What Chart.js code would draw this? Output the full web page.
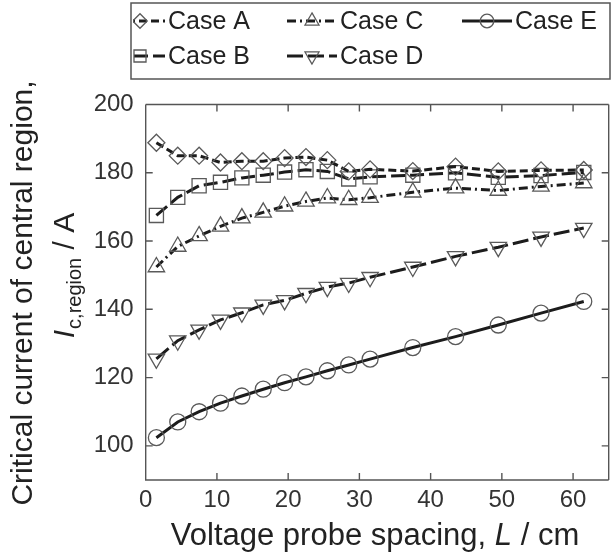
<!DOCTYPE html>
<html>
<head>
<meta charset="utf-8">
<style>
  html, body { margin: 0; padding: 0; background: #fff; overflow: hidden; }
  #wrap { width: 620px; height: 553px; }
</style>
<script src="https://cdn.jsdelivr.net/npm/chart.js@4.4.0/dist/chart.umd.min.js"></script>
</head>
<body>
<div id="wrap"><canvas id="myChart" width="620" height="553"></canvas></div>
<script>
// probe spacing L (cm)
var spacing = [1.5, 4.5, 7.5, 10.5, 13.5, 16.5, 19.5, 22.5, 25.5, 28.5, 31.5, 37.5, 43.5, 49.5, 55.5, 61.5];

// critical current of central region (A)
var caseA = [188.8, 185.0, 185.0, 183.0, 183.4, 183.4, 184.3, 184.6, 183.7, 180.4, 181.0, 180.5, 181.8, 180.4, 180.7, 180.8];
var caseB = [167.5, 172.8, 176.2, 177.2, 178.5, 179.3, 180.2, 180.9, 180.4, 178.2, 178.8, 179.3, 180.0, 178.7, 179.2, 180.1];
var caseC = [152.4, 158.4, 161.5, 164.3, 166.7, 168.4, 170.2, 171.6, 172.6, 172.1, 172.7, 174.3, 175.5, 174.8, 176.0, 177.0];
var caseD = [125.5, 130.8, 134.0, 136.9, 139.0, 141.3, 142.6, 144.7, 146.5, 147.7, 149.4, 152.4, 155.5, 158.2, 161.2, 163.8];
var caseE = [102.4, 107.0, 110.0, 112.5, 114.6, 116.6, 118.5, 120.2, 122.0, 123.7, 125.4, 128.8, 132.0, 135.4, 138.9, 142.3];

var xTicks = [0, 10, 20, 30, 40, 50, 60];
var yTicks = [100, 120, 140, 160, 180, 200];

var FONT = "'Liberation Sans', Arial, sans-serif";
var lineColor = '#1c1c1c';
var markColor = '#5a5a5a';
var axisColor = '#555';
var textColor = '#222';

function pts(vals) {
    return vals.map(function (v, i) { return { x: spacing[i], y: v }; });
}

function series(label, vals, style, radius, rotation, dash) {
    return {
        label: label,
        data: pts(vals),
        borderColor: lineColor,
        borderWidth: 3,
        borderDash: dash,
        tension: 0,
        fill: false,
        pointStyle: style,
        pointRadius: radius,
        pointRotation: rotation,
        pointBorderColor: markColor,
        pointBorderWidth: 1.3,
        pointBackgroundColor: 'rgba(255,255,255,0)'
    };
}

var datasets = [
    series('Case A', caseA, 'rectRot', 8.5, 0, [8, 4]),
    series('Case B', caseB, 'rect', 10, 0, [14, 5]),
    series('Case C', caseC, 'triangle', 9.5, 0, [9, 4, 2, 4]),
    series('Case D', caseD, 'triangle', 9.5, 180, [16, 5]),
    series('Case E', caseE, 'circle', 8, 0, [])
];
var legendSlots = [[140, 21], [140, 56], [312, 21], [312, 56], [487, 21]];

// inward ticks, frame, legend and axis titles
var framePlugin = {
    id: 'frame',
    afterDraw: function (chart) {
        var ctx = chart.ctx;
        var a = chart.chartArea;
        var xs = chart.scales.x, ys = chart.scales.y;
        ctx.save();
        ctx.strokeStyle = axisColor;
        ctx.lineWidth = 1.4;
        ctx.setLineDash([]);
        ctx.beginPath();
        ctx.moveTo(a.left, a.top); ctx.lineTo(a.right, a.top);
        ctx.moveTo(a.left, a.top); ctx.lineTo(a.left, a.bottom);
        ctx.lineTo(a.right, a.bottom);
        ctx.moveTo(a.right, a.top); ctx.lineTo(a.right, a.bottom);
        var tl = 7;
        xTicks.forEach(function (v) {
            var px = xs.getPixelForValue(v);
            ctx.moveTo(px, a.bottom); ctx.lineTo(px, a.bottom - tl);
            ctx.moveTo(px, a.top); ctx.lineTo(px, a.top + tl);
        });
        yTicks.forEach(function (v) {
            var py = ys.getPixelForValue(v);
            ctx.moveTo(a.left, py); ctx.lineTo(a.left + tl, py);
            ctx.moveTo(a.right, py); ctx.lineTo(a.right - tl, py);
        });
        ctx.stroke();

        // legend
        ctx.strokeStyle = axisColor;
        ctx.lineWidth = 1.5;
        ctx.strokeRect(131, 3, 479, 76);
        ctx.font = '25px ' + FONT;
        ctx.textBaseline = 'middle';
        ctx.textAlign = 'left';
        chart.data.datasets.forEach(function (ds, i) {
            var cx = legendSlots[i][0], cy = legendSlots[i][1];
            ctx.save();
            ctx.beginPath();
            ctx.rect(133, 4, 475, 74);
            ctx.clip();
            ctx.strokeStyle = lineColor;
            ctx.lineWidth = 3;
            ctx.setLineDash(ds.borderDash);
            ctx.beginPath();
            ctx.moveTo(cx - 25, cy); ctx.lineTo(cx + 25, cy);
            ctx.stroke();
            ctx.setLineDash([]);
            ctx.strokeStyle = markColor;
            ctx.fillStyle = 'rgba(255,255,255,0)';
            ctx.lineWidth = 1.3;
            Chart.helpers.drawPoint(ctx, {
                pointStyle: ds.pointStyle,
                radius: ds.pointRadius * 0.85,
                rotation: ds.pointRotation,
                borderWidth: 1.3
            }, cx, cy);
            ctx.restore();
            ctx.fillStyle = textColor;
            ctx.fillText(ds.label, cx + 28, cy + 1);
        });

        // x title
        ctx.fillStyle = textColor;
        ctx.textBaseline = 'alphabetic';
        var p1 = 'Voltage probe spacing, ', p2 = 'L', p3 = ' / cm';
        ctx.font = '31px ' + FONT;
        var w1 = ctx.measureText(p1).width, w3 = ctx.measureText(p3).width;
        ctx.font = 'italic 31px ' + FONT;
        var w2 = ctx.measureText(p2).width;
        var x0 = 375 - (w1 + w2 + w3) / 2, by = 545;
        ctx.font = '31px ' + FONT; ctx.fillText(p1, x0, by);
        ctx.font = 'italic 31px ' + FONT; ctx.fillText(p2, x0 + w1, by);
        ctx.font = '31px ' + FONT; ctx.fillText(p3, x0 + w1 + w2, by);

        // y title
        ctx.save();
        ctx.translate(24, 293);
        ctx.rotate(-Math.PI / 2);
        ctx.textAlign = 'center';
        ctx.textBaseline = 'middle';
        ctx.font = '30px ' + FONT;
        ctx.fillText('Critical current of central region,', 0, 0);
        ctx.restore();

        ctx.save();
        ctx.translate(63, 276);
        ctx.rotate(-Math.PI / 2);
        ctx.textAlign = 'left';
        ctx.textBaseline = 'alphabetic';
        ctx.font = 'italic 30px ' + FONT;
        var wi = ctx.measureText('I').width;
        ctx.font = '20px ' + FONT;
        var ws = ctx.measureText('c,region').width;
        ctx.font = '30px ' + FONT;
        var wa = ctx.measureText(' / A').width;
        var sx = -(wi + ws + wa) / 2, base = 11;
        ctx.font = 'italic 30px ' + FONT; ctx.fillText('I', sx, base);
        ctx.font = '20px ' + FONT; ctx.fillText('c,region', sx + wi + 1, base + 7);
        ctx.font = '30px ' + FONT; ctx.fillText(' / A', sx + wi + ws + 1, base);
        ctx.restore();

        ctx.restore();
    }
};

var ctx = document.getElementById('myChart').getContext('2d');
var myChart = new Chart(ctx, {
    type: 'line',
    data: { datasets: datasets },
    options: {
        responsive: false,
        animation: false,
        layout: { padding: { left: 0, right: 5, top: 104.5, bottom: 33 } },
        plugins: {
            legend: { display: false },
            tooltip: { enabled: false }
        },
        scales: {
            x: {
                type: 'linear',
                min: 0,
                max: 65,
                afterBuildTicks: function (s) { s.ticks = xTicks.map(function (v) { return { value: v }; }); },
                afterFit: function (s) { s.height = 40; },
                grid: { display: false, drawTicks: false },
                border: { display: false },
                ticks: { padding: 6, color: '#333', font: { size: 24, family: FONT } }
            },
            y: {
                min: 90,
                max: 200,
                afterBuildTicks: function (s) { s.ticks = yTicks.map(function (v) { return { value: v }; }); },
                afterFit: function (s) { s.width = 145.7; },
                grid: { display: false, drawTicks: false },
                border: { display: false },
                ticks: { padding: 12, color: '#333', font: { size: 24, family: FONT } }
            }
        }
    },
    plugins: [framePlugin]
});
</script>
</body>
</html>
